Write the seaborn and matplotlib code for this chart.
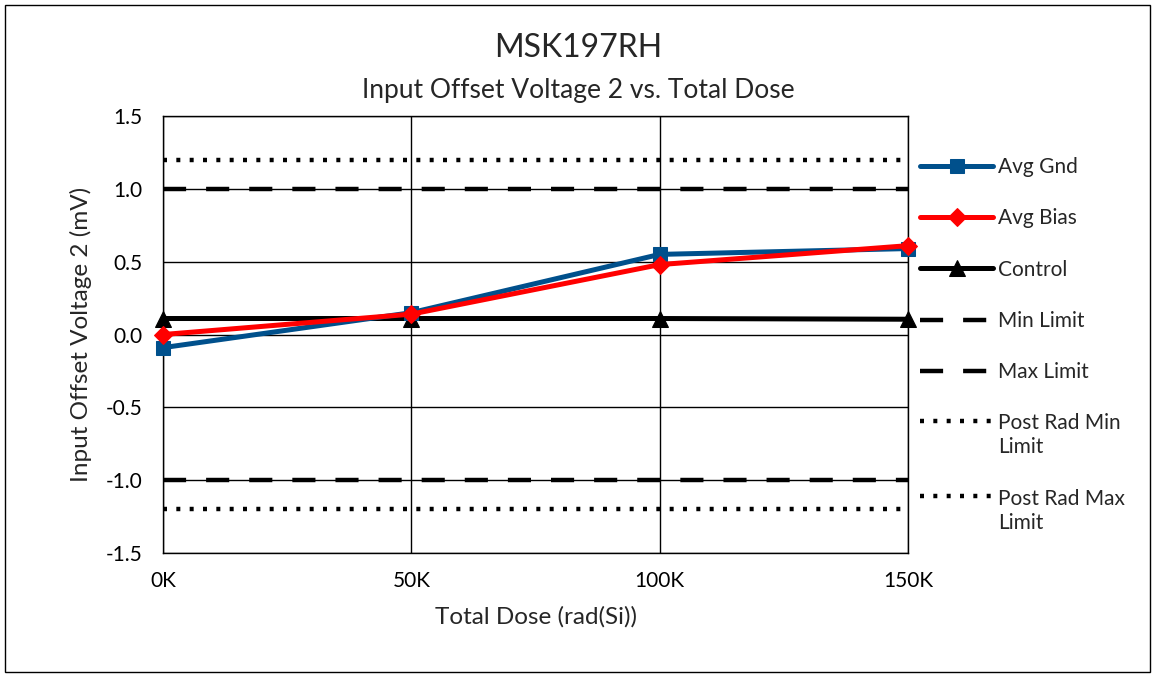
import numpy as np
import pandas as pd
import matplotlib
matplotlib.use('Agg')
import matplotlib.pyplot as plt
from matplotlib.patches import Rectangle
from matplotlib.ticker import FuncFormatter
import seaborn as sns

# data
dose = [0, 50000, 100000, 150000]
avg_gnd = [-0.09, 0.15, 0.55, 0.59]
avg_bias = [0.00, 0.14, 0.48, 0.61]
control = [0.11, 0.11, 0.11, 0.105]
min_limit = [-1.0, -1.0, -1.0, -1.0]
max_limit = [1.0, 1.0, 1.0, 1.0]
post_min = [-1.2, -1.2, -1.2, -1.2]
post_max = [1.2, 1.2, 1.2, 1.2]
x_ticks = [0, 50000, 100000, 150000]
x_labels = ['0K', '50K', '100K', '150K']
y_ticks = [-1.5, -1.0, -0.5, 0.0, 0.5, 1.0, 1.5]

sns.set_theme(style='white')
plt.rcParams['font.family'] = ['Lato', 'DejaVu Sans']

fig = plt.figure(figsize=(11.56, 6.77), dpi=100)
ax = fig.add_axes([0.141, 0.183, 0.6445, 0.6457])

blue = '#00508C'
sns.lineplot(x=dose, y=avg_gnd, ax=ax, color=blue, lw=3.6, marker='s',
             markersize=10.5, markeredgecolor=blue, label='Avg Gnd', zorder=5,
             clip_on=False)
sns.lineplot(x=dose, y=avg_bias, ax=ax, color='#FF0000', lw=3.6, marker='D',
             markersize=9, markeredgecolor='#FF0000', label='Avg Bias', zorder=6,
             clip_on=False)
sns.lineplot(x=dose, y=control, ax=ax, color='black', lw=3.6, marker='^',
             markersize=11, markeredgecolor='black', label='Control', zorder=4,
             clip_on=False)
dash = (0, (5.2, 4.5))
dot = (0, (0.9, 2.1))
sns.lineplot(x=dose, y=min_limit, ax=ax, color='black', lw=3.2, linestyle=dash,
             label='Min Limit')
sns.lineplot(x=dose, y=max_limit, ax=ax, color='black', lw=3.2, linestyle=dash,
             label='Max Limit')
sns.lineplot(x=dose, y=post_min, ax=ax, color='black', lw=3.2, linestyle=dot,
             label='Post Rad Min\nLimit')
sns.lineplot(x=dose, y=post_max, ax=ax, color='black', lw=3.2, linestyle=dot,
             label='Post Rad Max\nLimit')

ax.set_xlim(0, 150000)
ax.set_ylim(-1.5, 1.5)
ax.set_xticks(x_ticks)
ax.set_xticklabels(x_labels)
ax.set_yticks(y_ticks)
ax.yaxis.set_major_formatter(FuncFormatter(lambda v, p: '%.1f' % v))
ax.tick_params(axis='both', length=0, labelsize=15, colors='black')
ax.tick_params(axis='x', pad=13)
ax.tick_params(axis='y', pad=15)
ax.grid(True, color='black', lw=1)
for s in ax.spines.values():
    s.set_color('black')
    s.set_linewidth(1)

ax.set_xlabel('Total Dose (rad(Si))', fontsize=17.5, labelpad=11)
ax.set_ylabel('Input Offset Voltage 2 (mV)', fontsize=17.5, labelpad=10)

fig.text(0.5, 0.929, 'MSK197RH', ha='center', va='center', fontsize=23)
fig.text(0.5, 0.867, 'Input Offset Voltage 2 vs. Total Dose', ha='center',
         va='center', fontsize=19)

h, l = ax.get_legend_handles_labels()
leg = ax.legend(h, l, loc='upper left', bbox_to_anchor=(1.005, 0.925),
                frameon=False, fontsize=15, handlelength=3.5, handletextpad=0.25,
                labelspacing=1.5, borderaxespad=0)
for t in leg.get_texts():
    t.set_linespacing(1.25)
# wrapped labels: keep the line sample level with the first text line
for col in leg._legend_handle_box.get_children():
    for item in col.get_children():
        txt = item.get_children()[1].get_children()[0]
        if '\n' in txt.get_text():
            item.align = 'top'

fig.patches.append(Rectangle((0.004, 0.007), 0.991, 0.985, transform=fig.transFigure,
                             fill=False, edgecolor='black', lw=1))

fig.savefig('out.png', dpi=100)
